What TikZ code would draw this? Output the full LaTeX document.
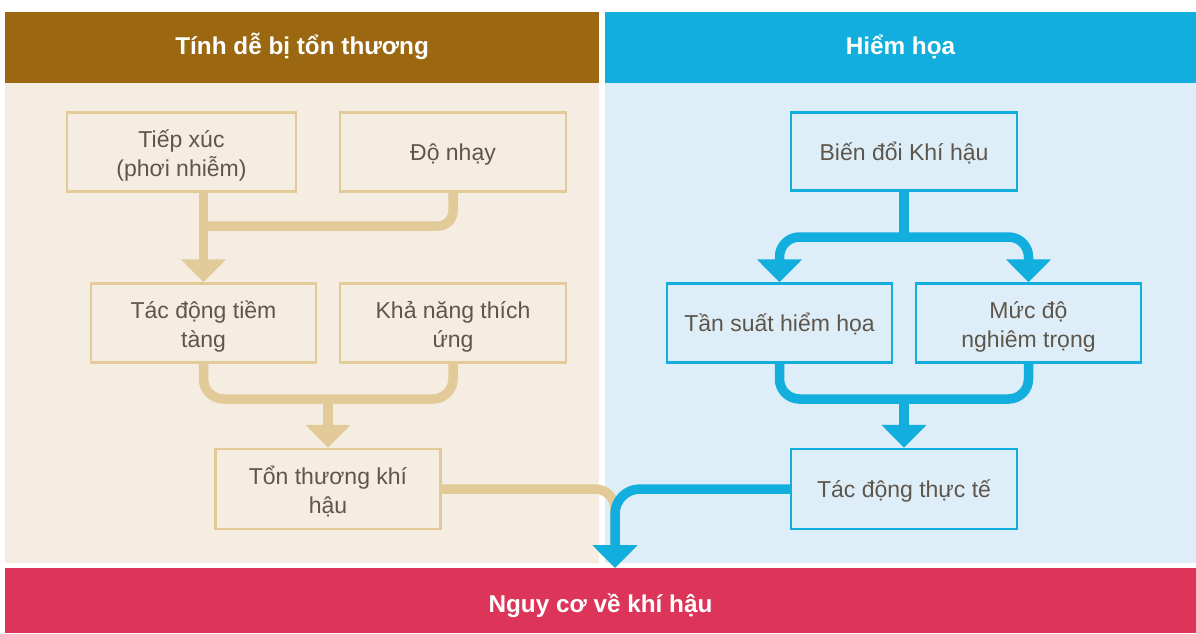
\documentclass[tikz,border=0pt]{standalone}
\usepackage{fontspec}
\setmainfont{Liberation Sans}
\usetikzlibrary{arrows.meta}
\definecolor{vulnhead}{HTML}{9B6811}
\definecolor{vulnpanel}{HTML}{F5EDE1}
\definecolor{vulnline}{HTML}{E2CB99}
\definecolor{hazhead}{HTML}{12AEDD}
\definecolor{hazpanel}{HTML}{DEEEF8}
\definecolor{hazline}{HTML}{12AFDE}
\definecolor{riskbar}{HTML}{DC3559}
\definecolor{bodytext}{HTML}{5E564A}
% strut opening the first of two lines, so that both lines sit a little lower
\newcommand{\tallstrut}{\rule{0pt}{25pt}}
\tikzset{
  headtext/.style={text=white, font=\bfseries\fontsize{24.3}{28}\selectfont, inner sep=0pt, text height=13.5pt, text depth=0pt},
  % fixed struts keep the baselines at the same place in every box
  tanbox/.style={draw=vulnline, line width=2.5pt, minimum height=79pt, inner sep=2pt,
    align=center, text=bodytext, font=\fontsize{23}{29}\selectfont,
    execute at begin node={\rule{0pt}{23pt}},
    execute at end node={\rule[-5.5pt]{0pt}{0pt}}},
  bluebox/.style={tanbox, draw=hazline},
  tanflow/.style={draw=vulnline, line width=9.5pt},
  blueflow/.style={draw=hazline, line width=9.5pt},
  bigtip/.style={-{Triangle[width=44pt,length=23pt]}}
}
\begin{document}
\begin{tikzpicture}[x=1pt,y=-1pt]
\useasboundingbox (0,0) rectangle (1196,633);
\fill[white] (0,0) rectangle (1196,633);

% column backgrounds
\fill[vulnpanel] (5,83.3) rectangle (599.3,562.7);
\fill[hazpanel] (605,83.3) rectangle (1196,562.7);

% column headers and the bottom bar
\node[fill=vulnhead, minimum width=594.3pt, minimum height=71.6pt, headtext] (hv) at (302.15,47.5) {Tính dễ bị tổn thương};
\node[fill=hazhead, minimum width=591pt, minimum height=71.6pt, headtext] (hh) at (900.5,47.5) {Hiểm họa};
\node[fill=riskbar, minimum width=1191pt, minimum height=64.7pt, headtext, text height=23pt] (risk) at (600.5,600.65) {Nguy cơ về khí hậu};

% vulnerability boxes
\node[tanbox, minimum width=229pt] (tx) at (181.5,152) {\tallstrut Tiếp xúc\\(phơi nhiễm)};
\node[tanbox, minimum width=226pt] (dn) at (453,152) {Độ nhạy};
\node[tanbox, minimum width=225pt] (tdtt) at (203.5,323) {\tallstrut Tác động tiềm\\tàng};
\node[tanbox, minimum width=226pt] (kn) at (453,323) {\tallstrut Khả năng thích\\ứng};
\node[tanbox, minimum width=225pt, minimum height=80pt] (tt) at (328,489) {\tallstrut Tổn thương khí\\hậu};

% hazard boxes
\node[bluebox, minimum width=226pt, minimum height=78pt] (bd) at (904,151.5) {Biến đổi Khí hậu};
\node[bluebox, minimum width=225pt] (ts) at (779.5,323) {Tần suất hiểm họa};
\node[bluebox, minimum width=225pt] (md) at (1028.5,323) {\tallstrut Mức độ\\nghiêm trọng};
\node[bluebox, minimum width=226pt, minimum height=80pt] (td) at (904,489) {Tác động thực tế};

% junction points
\coordinate (j1) at (203.5,226);
\coordinate (j2) at (328,399);
\coordinate (j4) at (904,237);
\coordinate (j5) at (904,399);
\coordinate (rin) at (615,568);

% vulnerability flow
\draw[tanflow, bigtip] (tx.south -| tdtt.north) -- (tdtt.north);
\draw[tanflow, rounded corners=15pt] (dn.south) |- (j1);
\draw[tanflow, rounded corners=20pt] (tdtt.south) |- (kn.south |- j2) -- (kn.south);
\draw[tanflow, bigtip] (j2) -- (tt.north);
\draw[tanflow, bigtip, rounded corners=20pt] (tt.east) -| (rin);

% hazard flow
\draw[blueflow] (bd.south) -- (j4);
\draw[blueflow, bigtip, rounded corners=20pt] (j4) -| (ts.north);
\draw[blueflow, bigtip, rounded corners=20pt] (j4) -| (md.north);
\draw[blueflow, rounded corners=20pt] (ts.south) |- (md.south |- j5) -- (md.south);
\draw[blueflow, bigtip] (j5) -- (td.north);
\draw[blueflow, bigtip, rounded corners=25pt] (td.west) -| (rin);
\end{tikzpicture}
\end{document}
